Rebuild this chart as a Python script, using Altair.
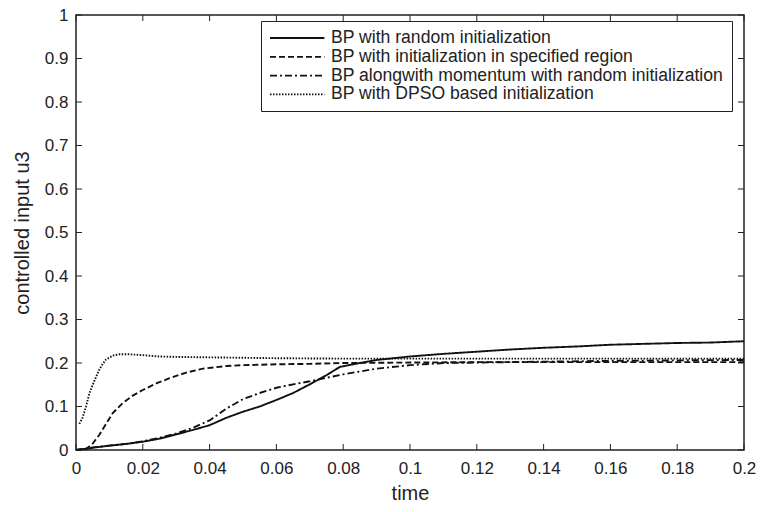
import altair as alt
import pandas as pd

# ---- data ----
series_names = [
    "BP with random initialization",
    "BP with initialization in specified region",
    "BP alongwith momentum with random initialization",
    "BP with DPSO based initialization",
]

t_random = [0, 0.005, 0.01, 0.015, 0.02, 0.025, 0.03, 0.035, 0.04, 0.045, 0.05, 0.055,
            0.06, 0.065, 0.07, 0.075, 0.079, 0.085, 0.09, 0.1, 0.11, 0.12, 0.13, 0.14,
            0.15, 0.16, 0.17, 0.18, 0.19, 0.2]
v_random = [0, 0.005, 0.01, 0.014, 0.019, 0.026, 0.036, 0.046, 0.057, 0.074, 0.088, 0.1,
            0.115, 0.131, 0.151, 0.172, 0.191, 0.2, 0.207, 0.215, 0.221, 0.226, 0.231, 0.235,
            0.238, 0.242, 0.244, 0.246, 0.247, 0.25]

t_region = [0, 0.003, 0.005, 0.007, 0.009, 0.011, 0.014, 0.017, 0.02, 0.024, 0.028, 0.033,
            0.038, 0.045, 0.05, 0.06, 0.07, 0.08, 0.1, 0.12, 0.15, 0.2]
v_region = [0, 0.002, 0.015, 0.035, 0.06, 0.085, 0.108, 0.125, 0.138, 0.153, 0.165, 0.178,
            0.187, 0.193, 0.195, 0.197, 0.198, 0.2, 0.201, 0.202, 0.202, 0.202]

t_momentum = [0, 0.005, 0.01, 0.015, 0.02, 0.025, 0.03, 0.035, 0.04, 0.045, 0.05, 0.055,
              0.06, 0.065, 0.07, 0.075, 0.08, 0.09, 0.1, 0.11, 0.12, 0.14, 0.16, 0.18, 0.2]
v_momentum = [0, 0.006, 0.01, 0.014, 0.02, 0.028, 0.038, 0.051, 0.068, 0.095, 0.117, 0.131,
              0.143, 0.151, 0.158, 0.166, 0.174, 0.187, 0.195, 0.2, 0.201, 0.203, 0.205,
              0.206, 0.207]

t_dpso = [0.001, 0.002, 0.003, 0.004, 0.005, 0.006, 0.007, 0.008, 0.009, 0.011, 0.013,
          0.016, 0.02, 0.025, 0.03, 0.04, 0.05, 0.06, 0.08, 0.1, 0.12, 0.15, 0.2]
v_dpso = [0.06, 0.075, 0.1, 0.13, 0.15, 0.168, 0.185, 0.198, 0.208, 0.217, 0.22, 0.22,
          0.218, 0.215, 0.214, 0.213, 0.212, 0.211, 0.21, 0.21, 0.21, 0.21, 0.21]

x_ticks = [0, 0.02, 0.04, 0.06, 0.08, 0.1, 0.12, 0.14, 0.16, 0.18, 0.2]
y_ticks = [0, 0.1, 0.2, 0.3, 0.4, 0.5, 0.6, 0.7, 0.8, 0.9, 1]

rows = []
for name, ts, vs in zip(series_names,
                        [t_random, t_region, t_momentum, t_dpso],
                        [v_random, v_region, v_momentum, v_dpso]):
    for t, v in zip(ts, vs):
        rows.append({"series": name, "time": t, "value": v})
df = pd.DataFrame(rows)

W, H = 668, 435
FONT = "Liberation Sans"

xscale = alt.Scale(domain=[0, 0.2], nice=False, zero=False)
yscale = alt.Scale(domain=[0, 1], nice=False)

lines = alt.Chart(df).mark_line(color="#111111", strokeWidth=1.9).encode(
    x=alt.X("time:Q", scale=xscale,
            axis=alt.Axis(values=x_ticks, format="~g", title="time", ticks=False,
                          domain=False, grid=False, labelFontSize=17, titleFontSize=20,
                          labelFont=FONT, titleFont=FONT, labelColor="#222222",
                          titleColor="#222222", labelPadding=10, titlePadding=7,
                          titleFontWeight="normal", labelFlush=False)),
    y=alt.Y("value:Q", scale=yscale,
            axis=alt.Axis(values=y_ticks, format="~g", title="controlled input u3",
                          ticks=False, domain=False, grid=False, labelFontSize=17,
                          titleFontSize=20, labelFont=FONT, titleFont=FONT,
                          labelColor="#222222", titleColor="#222222", labelPadding=8,
                          titlePadding=12, titleFontWeight="normal", labelFlush=False)),
    strokeDash=alt.StrokeDash(
        "series:N",
        scale=alt.Scale(domain=series_names,
                        range=[[1, 0], [6, 3], [7, 3, 2, 3], [1.5, 1.5]]),
        legend=alt.Legend(title=None, orient="none", legendX=185, legendY=6,
                          fillColor="white", strokeColor="#222222", padding=8,
                          symbolType="M-1,0H5.8", symbolSize=256, symbolStrokeWidth=1.8,
                          symbolStrokeColor="#111111", symbolFillColor="transparent",
                          labelFontSize=17.6, labelFont=FONT,
                          labelColor="#222222", rowPadding=0.8, labelOffset=44,
                          labelLimit=700),
    ),
    order=alt.Order("time:Q"),
)

xt = pd.DataFrame({"t": x_ticks})
yt = pd.DataFrame({"v": y_ticks})

tick_bottom = alt.Chart(xt).mark_rule(color="#222222", strokeWidth=1).encode(
    x=alt.X("t:Q", scale=xscale), y=alt.value(H), y2=alt.value(H - 6))
tick_top = alt.Chart(xt).mark_rule(color="#222222", strokeWidth=1).encode(
    x=alt.X("t:Q", scale=xscale), y=alt.value(0), y2=alt.value(6))
tick_left = alt.Chart(yt).mark_rule(color="#222222", strokeWidth=1).encode(
    y=alt.Y("v:Q", scale=yscale), x=alt.value(0), x2=alt.value(6))
tick_right = alt.Chart(yt).mark_rule(color="#222222", strokeWidth=1).encode(
    y=alt.Y("v:Q", scale=yscale), x=alt.value(W), x2=alt.value(W - 6))

chart = alt.layer(lines, tick_bottom, tick_top, tick_left, tick_right).properties(
    width=W, height=H,
    autosize=alt.AutoSizeParams(type="none"),
    padding={"left": 76, "top": 15, "right": 19, "bottom": 62},
    background="white",
).configure_view(stroke="#222222", strokeWidth=1.5)

chart.save("out.html", embed_options={"renderer": "svg", "actions": False})
